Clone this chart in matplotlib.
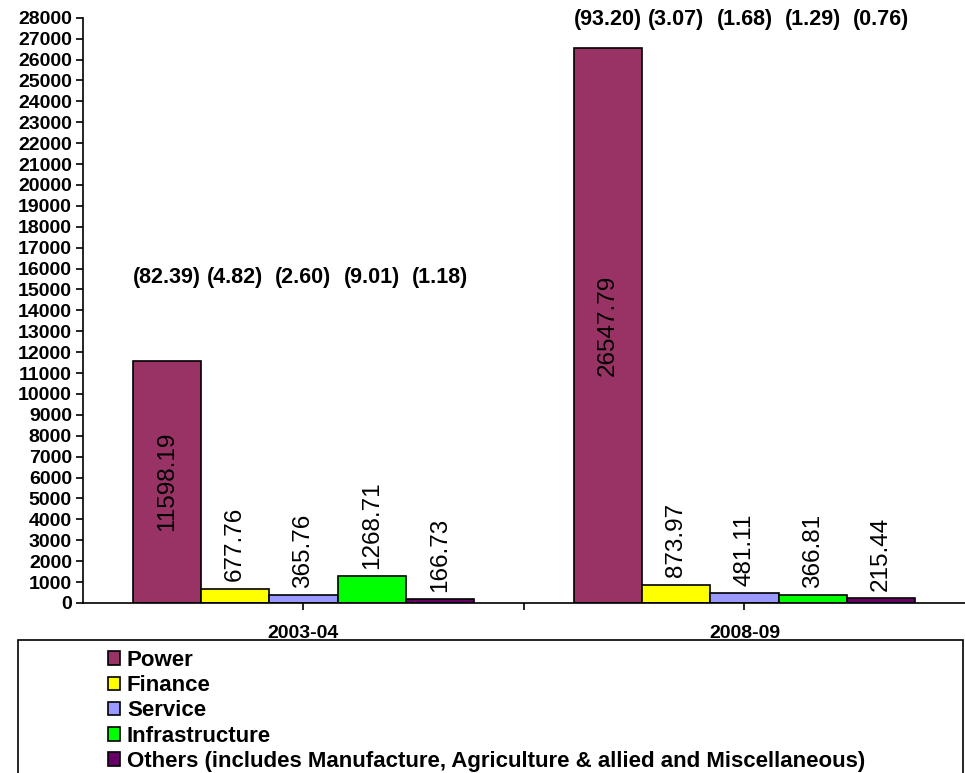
import matplotlib
matplotlib.use('Agg')
import matplotlib.pyplot as plt
from matplotlib.patches import Rectangle

plt.rcParams['font.family'] = ['Liberation Sans', 'DejaVu Sans']

years = ['2003-04', '2008-09']
sectors = ['Power', 'Finance', 'Service', 'Infrastructure',
           'Others (includes Manufacture, Agriculture & allied and Miscellaneous)']
values = [
    [11598.19, 26547.79],   # Power
    [677.76, 873.97],       # Finance
    [365.76, 481.11],       # Service
    [1268.71, 366.81],      # Infrastructure
    [166.73, 215.44],       # Others
]
shares = [
    [82.39, 93.20],
    [4.82, 3.07],
    [2.60, 1.68],
    [9.01, 1.29],
    [1.18, 0.76],
]
colors = ['#993366', '#FFFF00', '#9999FF', '#00FF00', '#660066']
share_y = [15550, 27900]   # height of the (%) row per year

fig = plt.figure(figsize=(9.65, 7.73), dpi=100)
ax = fig.add_axes([0.086, 0.22, 0.914, 0.757])

w = 0.155
x = [0, 1]
for i, s in enumerate(sectors):
    pos = [xi - 0.3875 + w * (i + 0.5) for xi in x]
    ax.bar(pos, values[i], width=w, color=colors[i], edgecolor='black',
           linewidth=1.2, label=s, zorder=2)
    for j, p in enumerate(pos):
        v = values[i][j]
        if i == 0:
            ax.text(p, v / 2, f'{v:.2f}', rotation=90, ha='center', va='center',
                    fontsize=17.5)
        else:
            ax.text(p, v + 350, f'{v:.2f}', rotation=90, ha='center', va='bottom',
                    fontsize=17.5)
        ax.text(p, share_y[j], f'({shares[i][j]:.2f})', ha='center', va='center',
                fontsize=15.5, fontweight='bold', clip_on=False)

ax.set_xlim(-0.5, 1.5)
ax.set_ylim(0, 28000)
ax.set_yticks(range(0, 28001, 1000))
ax.set_yticklabels([str(t) for t in range(0, 28001, 1000)], fontsize=14,
                   fontweight='bold')
ax.set_xticks([0, 0.5, 1])
ax.set_xticklabels([years[0], '', years[1]], fontsize=14, fontweight='bold')
ax.tick_params(axis='x', length=5, width=1.2, pad=11)
ax.tick_params(axis='y', length=5, width=1.2, pad=3)
ax.spines['top'].set_visible(False)
ax.spines['right'].set_visible(False)
ax.spines['left'].set_linewidth(1.2)
ax.spines['bottom'].set_linewidth(1.2)

# legend box, running off the bottom edge
fig.patches.append(Rectangle((18 / 965, -0.01), 945 / 965, 133 / 773 + 0.01,
                             transform=fig.transFigure, fill=False,
                             edgecolor='black', linewidth=1.2))

h, l = ax.get_legend_handles_labels()
fig.legend(h, l, loc='upper left', bbox_to_anchor=(108 / 965, 1 - 650 / 773),
           frameon=False, prop={'weight': 'bold', 'size': 16},
           handlelength=0.55, handleheight=0.55, handletextpad=0.3,
           labelspacing=0.19, borderpad=0, borderaxespad=0)

fig.savefig('out.png', dpi=100)
